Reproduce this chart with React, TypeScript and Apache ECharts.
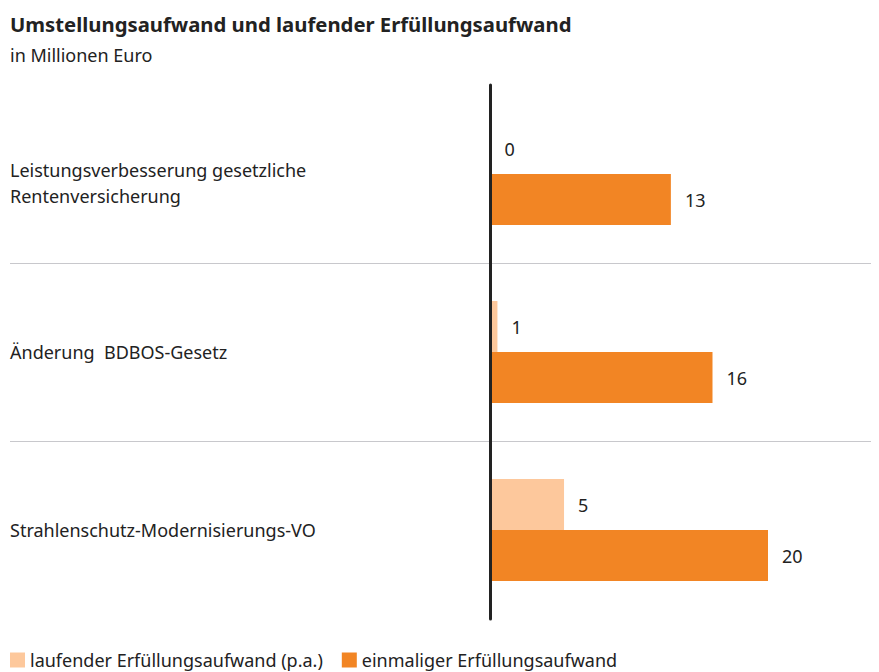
import React, { useEffect, useRef } from "react";
import * as echarts from "echarts";

const categories = [
  "Leistungsverbesserung gesetzliche\nRentenversicherung",
  "Änderung  BDBOS-Gesetz",
  "Strahlenschutz-Modernisierungs-VO",
];
const laufend = [0, 0.5, 5.3];
const einmalig = [13, 16, 20];
const seriesNames = ["laufender Erfüllungsaufwand (p.a.)", "einmaliger Erfüllungsaufwand"];
const title = "Umstellungsaufwand und laufender Erfüllungsaufwand";
const subtitle = "in Millionen Euro";

const FONT = "Noto Sans";
const TXT = "#222222";

export default function App() {
  const ref = useRef<HTMLDivElement>(null);
  useEffect(() => {
    if (!ref.current) return;
    const chart = echarts.init(ref.current, undefined, { renderer: "svg" });
    const label = {
      show: true,
      position: "right" as const,
      distance: 14,
      color: TXT,
      fontSize: 18,
      fontFamily: FONT,
      formatter: (p: any) => String(Math.round(p.value)),
    };
    const textRich = { fontSize: 18, lineHeight: 26, color: TXT, fontFamily: FONT, align: "left" };
    chart.setOption({
      animation: false,
      backgroundColor: "#ffffff",
      textStyle: { fontFamily: FONT },
      title: {
        text: title,
        subtext: subtitle,
        left: 2,
        top: 6,
        padding: 0,
        itemGap: 12,
        textStyle: { fontSize: 20.3, fontWeight: "bold", color: TXT, fontFamily: FONT },
        subtextStyle: { fontSize: 18, color: TXT, fontFamily: FONT },
      },
      legend: {
        left: 2,
        top: 643,
        padding: 0,
        icon: "rect",
        itemWidth: 15,
        itemHeight: 15,
        itemGap: 19,
        textStyle: { fontSize: 18, color: TXT, fontFamily: FONT },
        data: seriesNames,
      },
      grid: [
        { left: 2, right: 0, top: 77, bottom: 53, containLabel: false, outerBoundsMode: "none" },
        { left: 482.5, right: 0, top: 77, bottom: 53, containLabel: false, outerBoundsMode: "none" },
      ],
      xAxis: [
        { type: "value", gridIndex: 0, min: 0, max: 1, show: false },
        { type: "value", gridIndex: 1, min: 0, max: 28, show: false },
      ],
      yAxis: [
        {
          type: "category",
          gridIndex: 0,
          data: categories,
          inverse: true,
          axisLine: { show: false },
          axisTick: { show: false },
          axisLabel: {
            align: "left",
            margin: 0,
            fontSize: 18,
            lineHeight: 26,
            color: TXT,
            fontFamily: FONT,
            formatter: (v: string) => {
              const lines = v.split("\n");
              const body = lines.map((l) => `{t|${l}}`).join("\n");
              return lines.length > 1 ? `{sp| }\n${body}` : body;
            },
            rich: {
              t: textRich,
              sp: { fontSize: 10, lineHeight: 18, align: "left" },
            },
          },
          splitLine: {
            show: true,
            showMinLine: false,
            showMaxLine: false,
            lineStyle: { color: "#c8c8cc", width: 1 },
          },
        },
        {
          type: "category",
          gridIndex: 1,
          data: categories,
          inverse: true,
          z: 5,
          axisLine: { show: true, lineStyle: { color: "#222222", width: 3 } },
          axisTick: { show: false },
          axisLabel: { show: false },
          splitLine: { show: false },
        },
      ],
      series: [
        {
          name: seriesNames[0],
          type: "bar",
          xAxisIndex: 1,
          yAxisIndex: 1,
          data: laufend,
          barWidth: 51,
          barGap: "0%",
          itemStyle: { color: "#fdc89c" },
          label,
        },
        {
          name: seriesNames[1],
          type: "bar",
          xAxisIndex: 1,
          yAxisIndex: 1,
          data: einmalig,
          barWidth: 51,
          barGap: "0%",
          itemStyle: { color: "#f28524" },
          label,
        },
      ],
    });
    return () => chart.dispose();
  }, []);
  return <div ref={ref} style={{ width: 871, height: 664 }} />;
}
